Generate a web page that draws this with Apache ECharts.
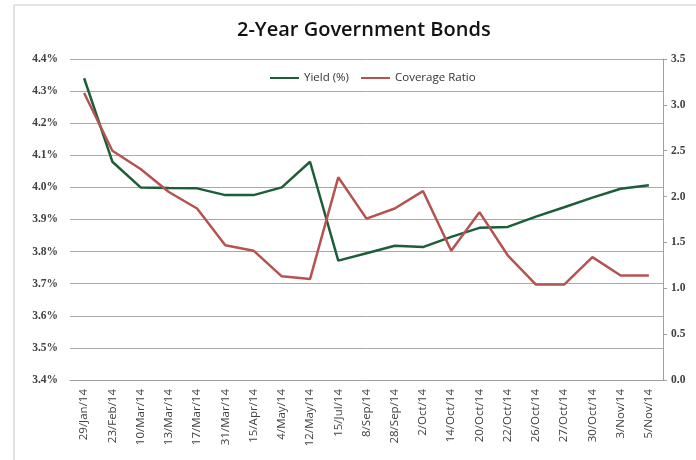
<!DOCTYPE html>
<html>
<head>
<meta charset="utf-8">
<script src="https://cdn.jsdelivr.net/npm/echarts@6/dist/echarts.min.js"></script>
<style>
  html, body { margin: 0; padding: 0; background: #fff; }
  #chart { width: 696px; height: 460px; }
</style>
</head>
<body>
<div id="chart"></div>
<script>
// auction dates
var dates = ['29/Jan/14', '23/Feb/14', '10/Mar/14', '13/Mar/14', '17/Mar/14', '31/Mar/14',
  '15/Apr/14', '4/May/14', '12/May/14', '15/Jul/14', '8/Sep/14', '28/Sep/14', '2/Oct/14',
  '14/Oct/14', '20/Oct/14', '22/Oct/14', '26/Oct/14', '27/Oct/14', '30/Oct/14', '3/Nov/14', '5/Nov/14'];
// yield in %
var yieldPct = [4.34, 4.08, 4.00, 3.998, 3.997, 3.976, 3.976, 4.00, 4.08, 3.772, 3.795,
  3.818, 3.814, 3.846, 3.874, 3.877, 3.909, 3.938, 3.968, 3.996, 4.007];
// bid to cover
var coverage = [3.13, 2.50, 2.30, 2.05, 1.87, 1.47, 1.41, 1.13, 1.10, 2.21, 1.76,
  1.87, 2.06, 1.41, 1.83, 1.36, 1.04, 1.04, 1.34, 1.14, 1.14];

var chart = echarts.init(document.getElementById('chart'));
var labelFont = { color: '#404040', fontSize: 11.5, fontWeight: 'bold', fontFamily: 'Liberation Serif' };

chart.setOption({
  animation: false,
  title: {
    text: '2-Year Government Bonds',
    left: 232,
    top: 15,
    textStyle: { fontFamily: 'Open Sans', fontSize: 20, fontWeight: 600, color: '#111' }
  },
  legend: {
    top: 67,
    left: 265,
    itemWidth: 29,
    itemHeight: 2,
    itemGap: 12,
    icon: 'rect',
    textStyle: { fontFamily: 'Open Sans', fontSize: 11.5, color: '#333' },
    data: ['Yield (%)', 'Coverage Ratio']
  },
  grid: { left: 70, right: 33, top: 59, bottom: 80 },
  xAxis: {
    type: 'category',
    data: dates,
    boundaryGap: true,
    axisLine: { lineStyle: { color: '#a0a0a0' } },
    axisTick: { show: false },
    axisLabel: { rotate: 90, interval: 0, margin: 9, color: '#404040', fontSize: 11.5, fontFamily: 'Open Sans' }
  },
  yAxis: [{
    type: 'value',
    min: 3.4,
    max: 4.4,
    interval: 0.1,
    axisLine: { show: false },
    axisTick: { show: false },
    splitLine: { lineStyle: { color: '#a8a8a8' } },
    axisLabel: Object.assign({
      margin: 12,
      formatter: function (v) { return v.toFixed(1) + '%'; }
    }, labelFont)
  }, {
    type: 'value',
    min: 0,
    max: 3.5,
    interval: 0.5,
    position: 'right',
    axisLine: { show: true, lineStyle: { color: '#a0a0a0' } },
    axisTick: { show: true, length: 4, lineStyle: { color: '#a0a0a0' } },
    splitLine: { show: false },
    axisLabel: Object.assign({
      margin: 8,
      formatter: function (v) { return v.toFixed(1); }
    }, labelFont)
  }],
  series: [{
    name: 'Yield (%)',
    type: 'line',
    data: yieldPct,
    yAxisIndex: 0,
    symbol: 'none',
    color: '#1c5e38',
    lineStyle: { width: 2.5, color: '#1c5e38' }
  }, {
    name: 'Coverage Ratio',
    type: 'line',
    data: coverage,
    yAxisIndex: 1,
    symbol: 'none',
    color: '#b55350',
    lineStyle: { width: 2.5, color: '#b55350' }
  }],
  graphic: [{
    type: 'rect',
    shape: { x: 14, y: 5, width: 700, height: 470 },
    style: { fill: 'none', stroke: '#c8c8c8', lineWidth: 1 },
    silent: true
  }]
});
</script>
</body>
</html>
